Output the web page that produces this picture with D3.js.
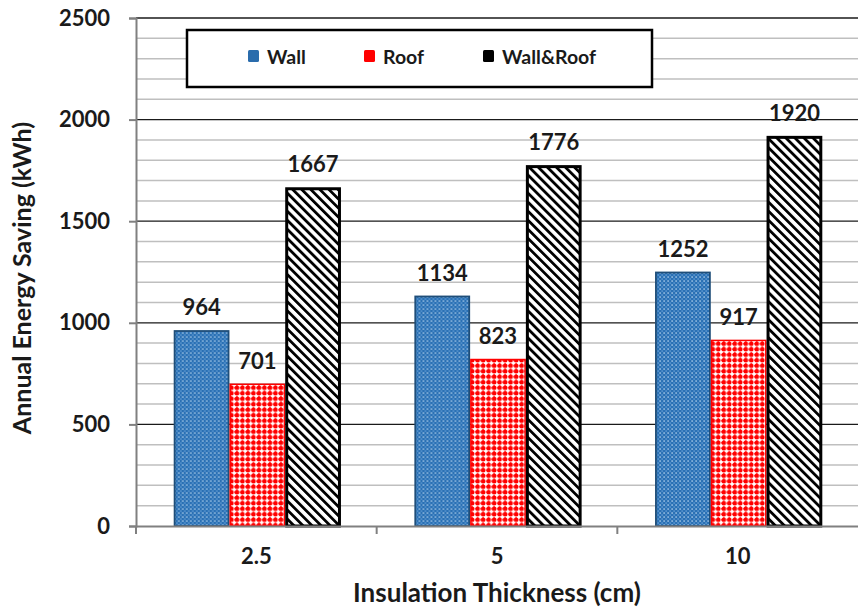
<!DOCTYPE html>
<html>
<head>
<meta charset="utf-8">
<script src="https://cdn.jsdelivr.net/npm/d3@7"></script>
<style>
  html, body { margin: 0; padding: 0; background: #fff; }
  svg { display: block; font-family: Lato, "Open Sans", sans-serif; font-weight: bold; }
</style>
</head>
<body>
<svg id="chart" width="858" height="610"></svg>
<script>
// Annual energy saving by insulation thickness
const categories = ["2.5", "5", "10"];
const seriesNames = ["Wall", "Roof", "Wall&Roof"];
const wallValues = [964, 1134, 1252];
const roofValues = [701, 823, 917];
const wallRoofValues = [1667, 1776, 1920];
const yTicks = [0, 500, 1000, 1500, 2000, 2500];

const seriesValues = [wallValues, roofValues, wallRoofValues];

const svg = d3.select("#chart");
const margin = { left: 136, right: 0, top: 18, bottom: 84 };
const W = 858, H = 610;
const plotBottom = H - margin.bottom; // 526

const y = d3.scaleLinear().domain([0, 2500]).range([plotBottom, margin.top]);
const x = d3.scaleBand().domain(categories).range([margin.left, W - margin.right]).padding(0);
const groupW = x.bandwidth() * 0.695;
const x1 = d3.scaleBand().domain(seriesNames).range([0, groupW]).padding(0);

// fill patterns
const defs = svg.append("defs");

const pWall = defs.append("pattern").attr("id", "pWall")
  .attr("patternUnits", "userSpaceOnUse").attr("width", 4).attr("height", 4);
pWall.append("rect").attr("width", 4).attr("height", 4).attr("fill", "#2A70B4");
pWall.append("rect").attr("x", 0.4).attr("y", 0.4).attr("width", 1.4).attr("height", 1.3).attr("fill", "#C4DEF5");
pWall.append("rect").attr("x", 2.4).attr("y", 2.4).attr("width", 1.4).attr("height", 1.3).attr("fill", "#6FA8DD");

const pRoof = defs.append("pattern").attr("id", "pRoof")
  .attr("patternUnits", "userSpaceOnUse").attr("width", 5.5).attr("height", 5.5);
pRoof.append("rect").attr("width", 5.5).attr("height", 5.5).attr("fill", "#FFFFFF");
pRoof.append("circle").attr("cx", 2.75).attr("cy", 2.75).attr("r", 2.3).attr("fill", "#FF0000");
pRoof.append("rect").attr("x", 0).attr("y", 2.2).attr("width", 0.9).attr("height", 1.1).attr("fill", "#FF0000");
pRoof.append("rect").attr("x", 2.2).attr("y", 0).attr("width", 1.1).attr("height", 0.9).attr("fill", "#FF0000");

const pBoth = defs.append("pattern").attr("id", "pBoth")
  .attr("patternUnits", "userSpaceOnUse").attr("width", 6.4).attr("height", 6.4)
  .attr("patternTransform", "rotate(-45)");
pBoth.append("rect").attr("width", 6.4).attr("height", 6.4).attr("fill", "#FFFFFF");
pBoth.append("rect").attr("width", 2.8).attr("height", 6.4).attr("fill", "#000000");

const fills = ["url(#pWall)", "url(#pRoof)", "url(#pBoth)"];
const strokes = ["#1F4E79", "#FF0000", "#000000"];
const strokeW = [1.8, 1.5, 3];

// gridlines
const minorTicks = d3.range(100, 2501, 100).filter(v => v % 500 !== 0);
svg.append("g").selectAll("line").data(minorTicks).join("line")
  .attr("x1", margin.left).attr("x2", W)
  .attr("y1", d => y(d)).attr("y2", d => y(d))
  .attr("stroke", "#BFBFBF").attr("stroke-width", 1.5);
svg.append("g").selectAll("line").data(yTicks.filter(v => v > 0)).join("line")
  .attr("x1", margin.left).attr("x2", W)
  .attr("y1", d => y(d)).attr("y2", d => y(d))
  .attr("stroke", "#1a1a1a").attr("stroke-width", 1.3);

// bars
const groups = svg.append("g").selectAll("g").data(categories).join("g")
  .attr("transform", c => `translate(${x(c) + (x.bandwidth() - groupW) / 2 + 1},0)`);

groups.each(function(c, ci) {
  const g = d3.select(this);
  seriesNames.forEach((s, si) => {
    const v = seriesValues[si][ci];
    const sw = strokeW[si];
    g.append("rect")
      .attr("x", x1(s) + sw / 2).attr("y", y(v) + sw / 2)
      .attr("width", x1.bandwidth() - sw).attr("height", y(0) - y(v) - sw / 2)
      .attr("fill", fills[si]).attr("stroke", strokes[si]).attr("stroke-width", sw);
    g.append("text")
      .attr("x", x1(s) + x1.bandwidth() / 2).attr("y", y(v) - 15)
      .attr("text-anchor", "middle").attr("font-size", 22).attr("fill", "#1a1a1a")
      .text(v);
  });
});

// y axis
const yAxis = svg.append("g").attr("transform", `translate(${margin.left},0)`)
  .call(d3.axisLeft(y).tickValues(yTicks).tickSize(7).tickPadding(19).tickFormat(d3.format("d")));
yAxis.select(".domain").attr("stroke", "#808080").attr("stroke-width", 2);
yAxis.selectAll(".tick line").attr("stroke", "#808080").attr("stroke-width", 2);
yAxis.selectAll("text").attr("font-size", 22).attr("font-family", "Lato").attr("font-weight", "bold").attr("fill", "#1a1a1a");

// x axis
const xAxis = svg.append("g").attr("transform", `translate(0,${plotBottom})`)
  .call(d3.axisBottom(x).tickSize(0).tickPadding(22));
xAxis.select(".domain").attr("stroke", "#808080").attr("stroke-width", 2);
xAxis.selectAll("text").attr("font-size", 22).attr("font-family", "Lato").attr("font-weight", "bold").attr("fill", "#1a1a1a");
const bounds = categories.map(c => x(c));
xAxis.append("g").selectAll("line").data(bounds).join("line")
  .attr("x1", d => d).attr("x2", d => d).attr("y1", 0).attr("y2", 8)
  .attr("stroke", "#808080").attr("stroke-width", 2);

// axis titles
svg.append("text").attr("x", 497).attr("y", 602)
  .attr("text-anchor", "middle").attr("font-size", 26).attr("fill", "#1a1a1a")
  .text("Insulation Thickness (cm)");
svg.append("text").attr("transform", "translate(31,278) rotate(-90)")
  .attr("text-anchor", "middle").attr("font-size", 25).attr("fill", "#1a1a1a")
  .text("Annual Energy Saving (kWh)");

// legend
const legend = svg.append("g");
legend.append("rect").attr("x", 187).attr("y", 30).attr("width", 465).attr("height", 57)
  .attr("fill", "#fff").attr("stroke", "#000").attr("stroke-width", 2.5);
const legendX = [248, 364, 483];
const swatchFill = ["#2A6CAC", "#FF0000", "#000000"];
seriesNames.forEach((s, i) => {
  legend.append("rect").attr("x", legendX[i]).attr("y", 50).attr("width", 11).attr("height", 12)
    .attr("rx", 1.5).attr("fill", swatchFill[i]);
  legend.append("text").attr("x", legendX[i] + 19).attr("y", 64)
    .attr("font-size", 19.5).attr("fill", "#1a1a1a").text(s);
});
</script>
</body>
</html>
